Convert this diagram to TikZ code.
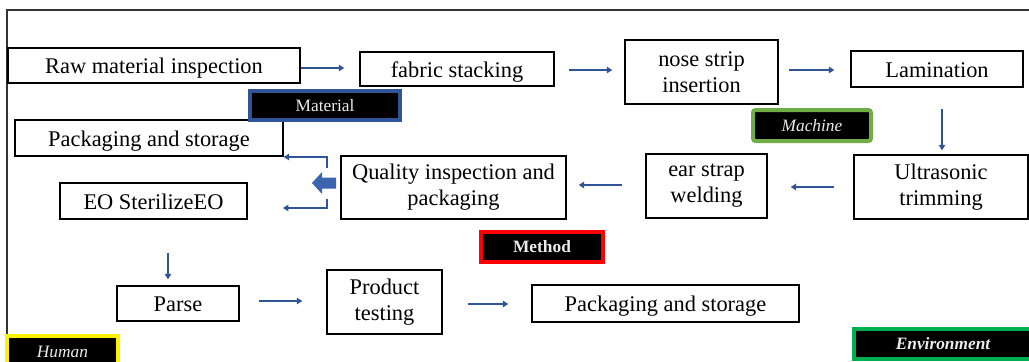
\documentclass[tikz,border=0pt]{standalone}
\usepackage{fontspec}
\setmainfont{Liberation Serif}
\usetikzlibrary{arrows.meta,calc}
\definecolor{flowblue}{RGB}{47,85,151}
\definecolor{arrowblue}{RGB}{60,100,175}
\definecolor{matblue}{RGB}{47,85,151}
\definecolor{machgreen}{RGB}{112,173,71}
\definecolor{envgreen}{RGB}{0,176,80}
\definecolor{labeltext}{RGB}{235,235,235}
\tikzset{
  stepbox/.style={draw=black, line width=1.1pt, fill=white, inner sep=0pt,
    align=center, font=\fontsize{16.8}{19.5}\selectfont},
  oneline/.style={text height=13pt, text depth=1pt},
  tagbox/.style={fill=black, line width=3pt, inner sep=0pt, text=labeltext,
    font=\fontsize{13}{15}\selectfont},
  flow/.style={draw=flowblue, line width=2pt,
    -{Triangle[length=4pt,width=4.8pt]}},
}
\begin{document}
\begin{tikzpicture}[x=0.75pt,y=-0.75pt]
\useasboundingbox (0,0) rectangle (1029,361);
\clip (0,0) rectangle (1029,361);

% frame lines
\draw[black!80, line width=0.9pt] (7,361) -- (7,10) -- (1029,10);

% process steps
\node[stepbox, oneline, minimum width=219pt, minimum height=26.25pt] (raw) at (154,65.5) {Raw material inspection};
\node[stepbox, oneline, minimum width=145.5pt, minimum height=25.5pt] (fabric) at (457,69) {fabric stacking};
\node[stepbox, minimum width=114.75pt, minimum height=48pt] (nose) at (701.5,72) {nose strip\\insertion};
\node[stepbox, oneline, minimum width=129pt, minimum height=27pt] (lam) at (937,69) {Lamination};
\node[stepbox, oneline, minimum width=201pt, minimum height=27pt] (pack1) at (149,138) {Packaging and storage};
\node[stepbox, minimum width=130.5pt, minimum height=48pt] (ultra) at (941,187) {Ultrasonic\\trimming};
\node[stepbox, minimum width=90.75pt, minimum height=48pt] (ear) at (706.5,186) {ear strap\\welding};
\node[stepbox, minimum width=168.75pt, minimum height=47.25pt] (qual) at (453.5,187.5) {Quality inspection and\\packaging};
\node[stepbox, oneline, minimum width=140.25pt, minimum height=27pt] (eo) at (153.5,201) {EO SterilizeEO};
\node[stepbox, oneline, minimum width=91.5pt, minimum height=26.25pt] (parse) at (178,303.5) {Parse};
\node[stepbox, minimum width=86.25pt, minimum height=48pt] (prod) at (384.5,302) {Product\\testing};
\node[stepbox, oneline, minimum width=200.25pt, minimum height=27.75pt] (pack2) at (665.5,303.5) {Packaging and storage};

% category tags
\node[tagbox, draw=matblue, minimum width=112.5pt, minimum height=21.75pt] (material) at (325,105.5) {Material};
\node[tagbox, draw=machgreen, rounded corners=2pt, minimum width=88.5pt, minimum height=23.25pt,
  font=\fontsize{13}{15}\selectfont\itshape] (machine) at (812,125.5) {Machine};
\node[tagbox, draw=red, minimum width=91.5pt, minimum height=22.5pt,
  font=\fontsize{13}{15}\selectfont\bfseries] (method) at (542,247) {Method};
\node[tagbox, draw=yellow, minimum width=83.25pt, minimum height=24pt,
  font=\fontsize{13}{15}\selectfont\itshape] (human) at (62.5,352) {Human};
\node[tagbox, draw=envgreen, minimum width=134pt, minimum height=22.5pt,
  font=\fontsize{13}{15}\selectfont\bfseries\itshape] (env) at (943,344) {Environment};

% flow arrows
\draw[flow, shorten >=11.25pt] (raw.east |- 0,68) -- (fabric.west |- 0,68);
\draw[flow, shorten <=10.5pt, shorten >=9pt] (fabric.east |- 0,70) -- (nose.west |- 0,70);
\draw[flow, shorten <=7.5pt, shorten >=12pt] (nose.east |- 0,70) -- (lam.west |- 0,70);
\draw[flow, shorten <=15.75pt, shorten >=3pt] (lam.south -| 942,0) -- (ultra.north -| 942,0);
\draw[flow, shorten <=14.25pt, shorten >=17.25pt] (ultra.west |- 0,187) -- (ear.east |- 0,187);
\draw[flow, shorten <=17.25pt, shorten >=9pt] (ear.west |- 0,185) -- (qual.east |- 0,185);
\draw[flow, shorten <=24.75pt, shorten >=4.5pt] (eo.south -| 168,0) -- (parse.north -| 168,0);
\draw[flow, shorten <=14.25pt, shorten >=18pt] (parse.east |- 0,301) -- (prod.west |- 0,301);
\draw[flow, shorten <=18.75pt, shorten >=17.25pt] (prod.east |- 0,304) -- (pack2.west |- 0,304);

% split after quality inspection
\coordinate (splitU) at (327,168);
\coordinate (splitD) at (327,199);
\coordinate (eoIn) at (283,208);
\draw[flow] (splitU) |- (pack1.east |- 0,157);
\draw[flow] (splitD) |- (eoIn);
\fill[arrowblue] (312,183) -- (322,172) -- (322,177.5) -- (336,177.5) -- (336,188.5)
  -- (322,188.5) -- (322,194) -- cycle;
\end{tikzpicture}
\end{document}
